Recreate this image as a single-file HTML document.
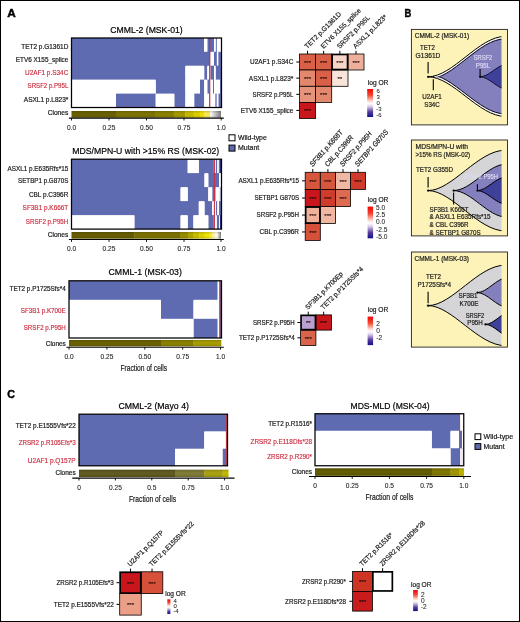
<!DOCTYPE html>
<html lang="en"><head><meta charset="utf-8"><title>Figure</title>
<style>
html,body{margin:0;padding:0;background:#fff;}
body{width:520px;height:622px;overflow:hidden;position:relative;}
svg{position:absolute;left:0;top:0;display:block;font-family:'Liberation Sans', sans-serif;}
.frame{position:absolute;left:0;top:0;width:518px;height:620px;border:1px solid #000;pointer-events:none;}
</style></head><body>
<svg width="520" height="622" viewBox="0 0 520 622">
<defs>
<linearGradient id="gg" x1="0" x2="1" y1="0" y2="0"><stop offset="0" stop-color="#ffffff"/><stop offset="1" stop-color="#7c7c7c"/></linearGradient>
<linearGradient id="cb" x1="0" x2="0" y1="0" y2="1"><stop offset="0" stop-color="#f20505"/><stop offset="0.22" stop-color="#f5452f"/><stop offset="0.44" stop-color="#fddcd2"/><stop offset="0.52" stop-color="#ffffff"/><stop offset="0.62" stop-color="#ddd0ea"/><stop offset="0.82" stop-color="#553a9c"/><stop offset="1" stop-color="#10108c"/></linearGradient>
<linearGradient id="cv" x1="0" x2="0" y1="0" y2="1"><stop offset="0" stop-color="#000" stop-opacity="0.16"/><stop offset="0.35" stop-color="#000" stop-opacity="0"/><stop offset="0.65" stop-color="#000" stop-opacity="0"/><stop offset="1" stop-color="#000" stop-opacity="0.14"/></linearGradient>
</defs>
<text x="7.30" y="16.90" font-size="11.3" textLength="8.50" lengthAdjust="spacingAndGlyphs" fill="#000" stroke="#000" stroke-width="0.45" font-weight="bold">A</text>
<text x="404.60" y="16.90" font-size="11.3" textLength="6.80" lengthAdjust="spacingAndGlyphs" fill="#000" stroke="#000" stroke-width="0.45" font-weight="bold">B</text>
<text x="7.30" y="398.40" font-size="11.3" textLength="7.70" lengthAdjust="spacingAndGlyphs" fill="#000" stroke="#000" stroke-width="0.45" font-weight="bold">C</text>
<rect x="71.50" y="38.00" width="150.00" height="69.50" fill="#fff"/>
<rect x="71.50" y="38.00" width="132.50" height="14.80" fill="#5f6bb1"/>
<rect x="207.30" y="38.00" width="6.70" height="14.80" fill="#5f6bb1"/>
<rect x="215.60" y="38.00" width="1.30" height="14.80" fill="#5f6bb1"/>
<rect x="204.00" y="38.00" width="3.30" height="13.80" fill="#fff"/>
<rect x="214.00" y="38.00" width="1.60" height="13.80" fill="#fff"/>
<rect x="216.90" y="38.00" width="4.60" height="13.80" fill="#fff"/>
<rect x="71.50" y="51.80" width="138.80" height="14.90" fill="#5f6bb1"/>
<rect x="214.00" y="51.80" width="2.90" height="14.90" fill="#5f6bb1"/>
<rect x="218.20" y="51.80" width="2.80" height="14.90" fill="#5f6bb1"/>
<rect x="210.30" y="51.80" width="3.70" height="13.90" fill="#fff"/>
<rect x="216.90" y="51.80" width="1.30" height="13.90" fill="#fff"/>
<rect x="221.00" y="51.80" width="0.50" height="13.90" fill="#fff"/>
<rect x="71.50" y="65.70" width="113.85" height="14.90" fill="#5f6bb1"/>
<rect x="204.20" y="65.70" width="3.10" height="14.90" fill="#5f6bb1"/>
<rect x="210.30" y="65.70" width="3.70" height="14.90" fill="#5f6bb1"/>
<rect x="215.60" y="65.70" width="5.40" height="14.90" fill="#5f6bb1"/>
<rect x="185.35" y="65.70" width="18.85" height="13.90" fill="#fff"/>
<rect x="207.30" y="65.70" width="3.00" height="13.90" fill="#fff"/>
<rect x="214.00" y="65.70" width="1.60" height="13.90" fill="#fff"/>
<rect x="221.00" y="65.70" width="0.50" height="13.90" fill="#fff"/>
<rect x="155.70" y="79.60" width="29.65" height="15.00" fill="#5f6bb1"/>
<rect x="200.00" y="79.60" width="4.20" height="15.00" fill="#5f6bb1"/>
<rect x="207.30" y="79.60" width="1.90" height="15.00" fill="#5f6bb1"/>
<rect x="213.00" y="79.60" width="1.00" height="15.00" fill="#5f6bb1"/>
<rect x="220.00" y="79.60" width="1.00" height="15.00" fill="#5f6bb1"/>
<rect x="71.50" y="79.60" width="84.20" height="14.00" fill="#fff"/>
<rect x="185.35" y="79.60" width="14.65" height="14.00" fill="#fff"/>
<rect x="204.20" y="79.60" width="3.10" height="14.00" fill="#fff"/>
<rect x="209.20" y="79.60" width="3.80" height="14.00" fill="#fff"/>
<rect x="214.00" y="79.60" width="6.00" height="14.00" fill="#fff"/>
<rect x="221.00" y="79.60" width="0.50" height="14.00" fill="#fff"/>
<rect x="115.90" y="93.60" width="39.80" height="13.90" fill="#5f6bb1"/>
<rect x="174.30" y="93.60" width="11.10" height="13.90" fill="#5f6bb1"/>
<rect x="194.20" y="93.60" width="10.00" height="13.90" fill="#5f6bb1"/>
<rect x="215.20" y="93.60" width="1.60" height="13.90" fill="#5f6bb1"/>
<rect x="218.30" y="93.60" width="2.70" height="13.90" fill="#5f6bb1"/>
<rect x="71.50" y="93.60" width="44.40" height="13.90" fill="#fff"/>
<rect x="155.70" y="93.60" width="18.60" height="13.90" fill="#fff"/>
<rect x="185.40" y="93.60" width="8.80" height="13.90" fill="#fff"/>
<rect x="204.20" y="93.60" width="11.00" height="13.90" fill="#fff"/>
<rect x="216.80" y="93.60" width="1.50" height="13.90" fill="#fff"/>
<rect x="221.00" y="93.60" width="0.50" height="13.90" fill="#fff"/>
<rect x="209.10" y="38.00" width="1.20" height="69.50" fill="#cd2f41"/>
<rect x="71.50" y="38.00" width="150.00" height="69.50" fill="none" stroke="#000" stroke-width="1.25"/>
<text x="146.50" y="33.00" font-size="9.4" text-anchor="middle" textLength="72.50" lengthAdjust="spacingAndGlyphs" fill="#000" stroke="#000" stroke-width="0.2">CMML-2 (MSK-01)</text>
<text x="68.30" y="48.80" font-size="6.8" text-anchor="end" textLength="47.00" lengthAdjust="spacingAndGlyphs" fill="#1a1a1a" stroke="#1a1a1a" stroke-width="0.2">TET2 p.G1361D</text>
<text x="68.30" y="61.90" font-size="6.8" text-anchor="end" textLength="52.50" lengthAdjust="spacingAndGlyphs" fill="#1a1a1a" stroke="#1a1a1a" stroke-width="0.2">ETV6 X155_splice</text>
<text x="68.30" y="75.20" font-size="6.8" text-anchor="end" textLength="43.20" lengthAdjust="spacingAndGlyphs" fill="#cd2f41" stroke="#cd2f41" stroke-width="0.16">U2AF1 p.S34C</text>
<text x="68.30" y="88.20" font-size="6.8" text-anchor="end" textLength="40.70" lengthAdjust="spacingAndGlyphs" fill="#cd2f41" stroke="#cd2f41" stroke-width="0.16">SRSF2 p.P95L</text>
<text x="68.30" y="102.30" font-size="6.8" text-anchor="end" textLength="44.50" lengthAdjust="spacingAndGlyphs" fill="#1a1a1a" stroke="#1a1a1a" stroke-width="0.2">ASXL1 p.L823*</text>
<text x="68.30" y="114.90" font-size="6.8" text-anchor="end" textLength="20.60" lengthAdjust="spacingAndGlyphs" fill="#1a1a1a" stroke="#1a1a1a" stroke-width="0.2">Clones</text>
<rect x="71.50" y="111.00" width="44.70" height="6.60" fill="#6a6000"/>
<rect x="115.90" y="111.00" width="40.00" height="6.60" fill="#7c7200"/>
<rect x="155.60" y="111.00" width="18.40" height="6.60" fill="#8a8000"/>
<rect x="173.70" y="111.00" width="11.90" height="6.60" fill="#a39800"/>
<rect x="185.30" y="111.00" width="8.60" height="6.60" fill="#c4b800"/>
<rect x="193.60" y="111.00" width="6.40" height="6.60" fill="#d8cc00"/>
<rect x="199.70" y="111.00" width="4.30" height="6.60" fill="#ebdd00"/>
<rect x="203.70" y="111.00" width="6.80" height="6.60" fill="#f5e850"/>
<rect x="210.20" y="111.00" width="10.80" height="6.60" fill="url(#gg)"/>
<rect x="71.50" y="111.00" width="149.50" height="6.60" fill="url(#cv)"/>
<line x1="68.90" y1="118.10" x2="223.80" y2="118.10" stroke="#000" stroke-width="1.1"/>
<line x1="71.50" y1="118.10" x2="71.50" y2="120.50" stroke="#000" stroke-width="0.9"/>
<text x="71.50" y="129.80" font-size="6.6" text-anchor="middle" fill="#1a1a1a" stroke="#1a1a1a" stroke-width="0.08">0.0</text>
<line x1="109.00" y1="118.10" x2="109.00" y2="120.50" stroke="#000" stroke-width="0.9"/>
<text x="109.00" y="129.80" font-size="6.6" text-anchor="middle" fill="#1a1a1a" stroke="#1a1a1a" stroke-width="0.08">0.25</text>
<line x1="146.50" y1="118.10" x2="146.50" y2="120.50" stroke="#000" stroke-width="0.9"/>
<text x="146.50" y="129.80" font-size="6.6" text-anchor="middle" fill="#1a1a1a" stroke="#1a1a1a" stroke-width="0.08">0.50</text>
<line x1="184.00" y1="118.10" x2="184.00" y2="120.50" stroke="#000" stroke-width="0.9"/>
<text x="184.00" y="129.80" font-size="6.6" text-anchor="middle" fill="#1a1a1a" stroke="#1a1a1a" stroke-width="0.08">0.75</text>
<line x1="221.20" y1="118.10" x2="221.20" y2="120.50" stroke="#000" stroke-width="0.9"/>
<text x="221.20" y="129.80" font-size="6.6" text-anchor="middle" fill="#1a1a1a" stroke="#1a1a1a" stroke-width="0.08">1.0</text>
<rect x="229.00" y="134.80" width="6.00" height="6.00" fill="#fff" stroke="#000" stroke-width="1"/>
<rect x="229.00" y="145.10" width="6.00" height="6.00" fill="#5f6bb1" stroke="#000" stroke-width="1"/>
<text x="238.00" y="140.40" font-size="6.9" textLength="28.80" lengthAdjust="spacingAndGlyphs" fill="#1a1a1a" stroke="#1a1a1a" stroke-width="0.2">Wild-type</text>
<text x="238.00" y="150.40" font-size="6.9" textLength="21.30" lengthAdjust="spacingAndGlyphs" fill="#1a1a1a" stroke="#1a1a1a" stroke-width="0.2">Mutant</text>
<rect x="71.50" y="159.20" width="150.00" height="69.90" fill="#fff"/>
<rect x="71.50" y="159.20" width="116.20" height="14.90" fill="#5f6bb1"/>
<rect x="198.80" y="159.20" width="15.10" height="14.90" fill="#5f6bb1"/>
<rect x="215.70" y="159.20" width="1.60" height="14.90" fill="#5f6bb1"/>
<rect x="218.60" y="159.20" width="0.90" height="14.90" fill="#5f6bb1"/>
<rect x="219.50" y="159.20" width="1.50" height="14.90" fill="#2a2f7e"/>
<rect x="187.70" y="159.20" width="11.10" height="13.90" fill="#fff"/>
<rect x="213.90" y="159.20" width="1.80" height="13.90" fill="#fff"/>
<rect x="217.30" y="159.20" width="1.30" height="13.90" fill="#fff"/>
<rect x="221.00" y="159.20" width="0.50" height="13.90" fill="#fff"/>
<rect x="71.50" y="173.10" width="133.00" height="15.00" fill="#5f6bb1"/>
<rect x="208.30" y="173.10" width="10.70" height="15.00" fill="#5f6bb1"/>
<rect x="204.50" y="173.10" width="3.80" height="14.00" fill="#fff"/>
<rect x="219.00" y="173.10" width="2.50" height="14.00" fill="#fff"/>
<rect x="71.50" y="187.10" width="109.10" height="15.00" fill="#5f6bb1"/>
<rect x="187.70" y="187.10" width="20.60" height="15.00" fill="#5f6bb1"/>
<rect x="212.20" y="187.10" width="3.50" height="15.00" fill="#5f6bb1"/>
<rect x="219.50" y="187.10" width="1.50" height="15.00" fill="#aab0d8"/>
<rect x="180.60" y="187.10" width="7.10" height="14.00" fill="#fff"/>
<rect x="208.30" y="187.10" width="3.90" height="14.00" fill="#fff"/>
<rect x="215.70" y="187.10" width="3.80" height="14.00" fill="#fff"/>
<rect x="221.00" y="187.10" width="0.50" height="14.00" fill="#fff"/>
<rect x="71.50" y="201.10" width="127.30" height="15.00" fill="#5f6bb1"/>
<rect x="204.50" y="201.10" width="7.70" height="15.00" fill="#5f6bb1"/>
<rect x="216.00" y="201.10" width="1.30" height="15.00" fill="#5f6bb1"/>
<rect x="219.00" y="201.10" width="2.00" height="15.00" fill="#5f6bb1"/>
<rect x="198.80" y="201.10" width="5.70" height="14.00" fill="#fff"/>
<rect x="212.20" y="201.10" width="3.80" height="14.00" fill="#fff"/>
<rect x="217.30" y="201.10" width="1.70" height="14.00" fill="#fff"/>
<rect x="221.00" y="201.10" width="0.50" height="14.00" fill="#fff"/>
<rect x="134.40" y="215.10" width="46.20" height="14.00" fill="#5f6bb1"/>
<rect x="187.70" y="215.10" width="5.70" height="14.00" fill="#5f6bb1"/>
<rect x="208.30" y="215.10" width="5.60" height="14.00" fill="#5f6bb1"/>
<rect x="216.70" y="215.10" width="2.60" height="14.00" fill="#5f6bb1"/>
<rect x="220.00" y="215.10" width="1.00" height="14.00" fill="#2a2f7e"/>
<rect x="71.50" y="215.10" width="62.90" height="14.00" fill="#fff"/>
<rect x="180.60" y="215.10" width="7.10" height="14.00" fill="#fff"/>
<rect x="193.40" y="215.10" width="14.90" height="14.00" fill="#fff"/>
<rect x="213.90" y="215.10" width="2.80" height="14.00" fill="#fff"/>
<rect x="219.30" y="215.10" width="0.70" height="14.00" fill="#fff"/>
<rect x="221.00" y="215.10" width="0.50" height="14.00" fill="#fff"/>
<rect x="213.85" y="159.20" width="1.10" height="69.90" fill="#cd2f41"/>
<rect x="71.50" y="159.20" width="150.00" height="69.90" fill="none" stroke="#000" stroke-width="1.25"/>
<text x="145.70" y="154.20" font-size="9.4" text-anchor="middle" textLength="147.00" lengthAdjust="spacingAndGlyphs" fill="#000" stroke="#000" stroke-width="0.2">MDS/MPN-U with &gt;15% RS (MSK-02)</text>
<text x="68.30" y="170.50" font-size="6.8" text-anchor="end" textLength="60.80" lengthAdjust="spacingAndGlyphs" fill="#1a1a1a" stroke="#1a1a1a" stroke-width="0.2">ASXL1 p.E635Rfs*15</text>
<text x="68.30" y="183.40" font-size="6.8" text-anchor="end" textLength="50.30" lengthAdjust="spacingAndGlyphs" fill="#1a1a1a" stroke="#1a1a1a" stroke-width="0.2">SETBP1 p.G870S</text>
<text x="68.30" y="197.40" font-size="6.8" text-anchor="end" textLength="39.40" lengthAdjust="spacingAndGlyphs" fill="#1a1a1a" stroke="#1a1a1a" stroke-width="0.2">CBL p.C396R</text>
<text x="68.30" y="209.70" font-size="6.8" text-anchor="end" textLength="45.70" lengthAdjust="spacingAndGlyphs" fill="#cd2f41" stroke="#cd2f41" stroke-width="0.16">SF3B1 p.K666T</text>
<text x="68.30" y="224.40" font-size="6.8" text-anchor="end" textLength="42.50" lengthAdjust="spacingAndGlyphs" fill="#cd2f41" stroke="#cd2f41" stroke-width="0.16">SRSF2 p.P95H</text>
<text x="68.30" y="236.80" font-size="6.8" text-anchor="end" textLength="20.60" lengthAdjust="spacingAndGlyphs" fill="#1a1a1a" stroke="#1a1a1a" stroke-width="0.2">Clones</text>
<rect x="71.50" y="232.00" width="63.20" height="6.60" fill="#655b00"/>
<rect x="134.40" y="232.00" width="45.80" height="6.60" fill="#7a7000"/>
<rect x="179.90" y="232.00" width="8.10" height="6.60" fill="#958a00"/>
<rect x="187.70" y="232.00" width="5.60" height="6.60" fill="#b0a400"/>
<rect x="193.00" y="232.00" width="6.60" height="6.60" fill="#c8bc00"/>
<rect x="199.30" y="232.00" width="5.60" height="6.60" fill="#ddd000"/>
<rect x="204.60" y="232.00" width="4.60" height="6.60" fill="#eee000"/>
<rect x="208.90" y="232.00" width="3.40" height="6.60" fill="#f5e840"/>
<rect x="212.00" y="232.00" width="3.10" height="6.60" fill="#fbf29a"/>
<rect x="214.80" y="232.00" width="2.40" height="6.60" fill="#fffbe0"/>
<rect x="216.90" y="232.00" width="4.10" height="6.60" fill="url(#gg)"/>
<rect x="71.50" y="232.00" width="149.50" height="6.60" fill="url(#cv)"/>
<line x1="68.90" y1="239.50" x2="223.80" y2="239.50" stroke="#000" stroke-width="1.1"/>
<line x1="71.50" y1="239.50" x2="71.50" y2="241.90" stroke="#000" stroke-width="0.9"/>
<text x="71.50" y="251.40" font-size="6.6" text-anchor="middle" fill="#1a1a1a" stroke="#1a1a1a" stroke-width="0.08">0.0</text>
<line x1="109.00" y1="239.50" x2="109.00" y2="241.90" stroke="#000" stroke-width="0.9"/>
<text x="109.00" y="251.40" font-size="6.6" text-anchor="middle" fill="#1a1a1a" stroke="#1a1a1a" stroke-width="0.08">0.25</text>
<line x1="146.50" y1="239.50" x2="146.50" y2="241.90" stroke="#000" stroke-width="0.9"/>
<text x="146.50" y="251.40" font-size="6.6" text-anchor="middle" fill="#1a1a1a" stroke="#1a1a1a" stroke-width="0.08">0.50</text>
<line x1="184.00" y1="239.50" x2="184.00" y2="241.90" stroke="#000" stroke-width="0.9"/>
<text x="184.00" y="251.40" font-size="6.6" text-anchor="middle" fill="#1a1a1a" stroke="#1a1a1a" stroke-width="0.08">0.75</text>
<line x1="221.00" y1="239.50" x2="221.00" y2="241.90" stroke="#000" stroke-width="0.9"/>
<text x="221.00" y="251.40" font-size="6.6" text-anchor="middle" fill="#1a1a1a" stroke="#1a1a1a" stroke-width="0.08">1.0</text>
<rect x="69.00" y="280.80" width="152.50" height="57.20" fill="#fff"/>
<rect x="69.00" y="280.80" width="148.70" height="20.00" fill="#5f6bb1"/>
<rect x="217.70" y="280.80" width="3.80" height="19.00" fill="#fff"/>
<rect x="161.00" y="299.80" width="32.50" height="20.00" fill="#5f6bb1"/>
<rect x="69.00" y="299.80" width="92.00" height="19.00" fill="#fff"/>
<rect x="193.50" y="299.80" width="28.00" height="19.00" fill="#fff"/>
<rect x="193.50" y="318.80" width="24.20" height="19.20" fill="#5f6bb1"/>
<rect x="69.00" y="318.80" width="124.50" height="19.20" fill="#fff"/>
<rect x="217.70" y="318.80" width="3.80" height="19.20" fill="#fff"/>
<rect x="219.20" y="280.80" width="1.50" height="57.20" fill="#cd2f41"/>
<rect x="220.50" y="280.80" width="0.80" height="57.20" fill="#2a2f7e"/>
<rect x="69.00" y="280.80" width="152.50" height="57.20" fill="none" stroke="#000" stroke-width="1.25"/>
<text x="145.20" y="275.40" font-size="9.4" text-anchor="middle" textLength="73.30" lengthAdjust="spacingAndGlyphs" fill="#000" stroke="#000" stroke-width="0.2">CMML-1 (MSK-03)</text>
<text x="65.80" y="291.20" font-size="6.8" text-anchor="end" textLength="56.30" lengthAdjust="spacingAndGlyphs" fill="#1a1a1a" stroke="#1a1a1a" stroke-width="0.2">TET2 p.P1725Sfs*4</text>
<text x="65.80" y="312.90" font-size="6.8" text-anchor="end" textLength="45.05" lengthAdjust="spacingAndGlyphs" fill="#cd2f41" stroke="#cd2f41" stroke-width="0.16">SF3B1 p.K700E</text>
<text x="65.80" y="330.40" font-size="6.8" text-anchor="end" textLength="42.05" lengthAdjust="spacingAndGlyphs" fill="#cd2f41" stroke="#cd2f41" stroke-width="0.16">SRSF2 p.P95H</text>
<text x="65.80" y="345.70" font-size="6.8" text-anchor="end" textLength="20.05" lengthAdjust="spacingAndGlyphs" fill="#1a1a1a" stroke="#1a1a1a" stroke-width="0.2">Clones</text>
<rect x="69.00" y="340.00" width="92.30" height="6.30" fill="#6a6000"/>
<rect x="161.00" y="340.00" width="32.80" height="6.30" fill="#8a8000"/>
<rect x="193.50" y="340.00" width="27.80" height="6.30" fill="#a69b00"/>
<rect x="69.00" y="340.00" width="152.30" height="6.30" fill="url(#cv)"/>
<line x1="66.40" y1="347.20" x2="223.80" y2="347.20" stroke="#000" stroke-width="1.1"/>
<line x1="69.00" y1="347.20" x2="69.00" y2="349.60" stroke="#000" stroke-width="0.9"/>
<text x="69.00" y="359.00" font-size="6.6" text-anchor="middle" fill="#1a1a1a" stroke="#1a1a1a" stroke-width="0.08">0.0</text>
<line x1="106.90" y1="347.20" x2="106.90" y2="349.60" stroke="#000" stroke-width="0.9"/>
<text x="106.90" y="359.00" font-size="6.6" text-anchor="middle" fill="#1a1a1a" stroke="#1a1a1a" stroke-width="0.08">0.25</text>
<line x1="144.80" y1="347.20" x2="144.80" y2="349.60" stroke="#000" stroke-width="0.9"/>
<text x="144.80" y="359.00" font-size="6.6" text-anchor="middle" fill="#1a1a1a" stroke="#1a1a1a" stroke-width="0.08">0.50</text>
<line x1="182.70" y1="347.20" x2="182.70" y2="349.60" stroke="#000" stroke-width="0.9"/>
<text x="182.70" y="359.00" font-size="6.6" text-anchor="middle" fill="#1a1a1a" stroke="#1a1a1a" stroke-width="0.08">0.75</text>
<line x1="220.50" y1="347.20" x2="220.50" y2="349.60" stroke="#000" stroke-width="0.9"/>
<text x="220.50" y="359.00" font-size="6.6" text-anchor="middle" fill="#1a1a1a" stroke="#1a1a1a" stroke-width="0.08">1.0</text>
<text x="143.80" y="370.50" font-size="8.8" text-anchor="middle" textLength="46.70" lengthAdjust="spacingAndGlyphs" fill="#1a1a1a" stroke="#1a1a1a" stroke-width="0.2">Fraction of cells</text>
<rect x="299.50" y="54.00" width="16.10" height="16.00" fill="#d95f46" stroke="#000" stroke-width="0.8"/>
<text x="307.55" y="64.80" font-size="6.1" text-anchor="middle" fill="#200808" stroke="#200808" stroke-width="0.1">***</text>
<rect x="315.60" y="54.00" width="16.10" height="16.00" fill="#d95f46" stroke="#000" stroke-width="0.8"/>
<text x="323.65" y="64.80" font-size="6.1" text-anchor="middle" fill="#200808" stroke="#200808" stroke-width="0.1">***</text>
<rect x="348.00" y="54.00" width="16.00" height="16.00" fill="#eeb09a" stroke="#000" stroke-width="0.8"/>
<text x="356.00" y="64.80" font-size="6.1" text-anchor="middle" fill="#200808" stroke="#200808" stroke-width="0.1">***</text>
<rect x="299.50" y="70.00" width="16.10" height="16.30" fill="#e3886d" stroke="#000" stroke-width="0.8"/>
<text x="307.55" y="80.95" font-size="6.1" text-anchor="middle" fill="#200808" stroke="#200808" stroke-width="0.1">***</text>
<rect x="315.60" y="70.00" width="16.10" height="16.30" fill="#d95f46" stroke="#000" stroke-width="0.8"/>
<text x="323.65" y="80.95" font-size="6.1" text-anchor="middle" fill="#200808" stroke="#200808" stroke-width="0.1">***</text>
<rect x="331.70" y="70.00" width="16.30" height="16.30" fill="#f9e4da" stroke="#000" stroke-width="0.8"/>
<text x="339.85" y="80.95" font-size="6.1" text-anchor="middle" fill="#200808" stroke="#200808" stroke-width="0.1">**</text>
<rect x="299.50" y="86.30" width="16.10" height="16.10" fill="#e6937b" stroke="#000" stroke-width="0.8"/>
<text x="307.55" y="97.15" font-size="6.1" text-anchor="middle" fill="#200808" stroke="#200808" stroke-width="0.1">***</text>
<rect x="315.60" y="86.30" width="16.10" height="16.10" fill="#e3886d" stroke="#000" stroke-width="0.8"/>
<text x="323.65" y="97.15" font-size="6.1" text-anchor="middle" fill="#200808" stroke="#200808" stroke-width="0.1">***</text>
<rect x="299.50" y="102.40" width="16.10" height="16.10" fill="#c9161d" stroke="#000" stroke-width="0.8"/>
<text x="307.55" y="113.25" font-size="6.1" text-anchor="middle" fill="#200808" stroke="#200808" stroke-width="0.1">***</text>
<rect x="332.15" y="54.45" width="15.40" height="15.10" fill="#f6d5c8" stroke="#000" stroke-width="1.7"/>
<text x="339.85" y="64.80" font-size="6.1" text-anchor="middle" fill="#200808" stroke="#200808" stroke-width="0.1">***</text>
<line x1="307.55" y1="50.80" x2="307.55" y2="54.00" stroke="#000" stroke-width="1.0"/>
<text x="307.35" y="49.00" font-size="6.8" textLength="48.50" lengthAdjust="spacingAndGlyphs" fill="#1a1a1a" stroke="#1a1a1a" stroke-width="0.2" transform="rotate(-45 307.35 49.00)">TET2 p.G1361D</text>
<line x1="323.65" y1="50.80" x2="323.65" y2="54.00" stroke="#000" stroke-width="1.0"/>
<text x="323.45" y="49.00" font-size="6.8" textLength="53.50" lengthAdjust="spacingAndGlyphs" fill="#1a1a1a" stroke="#1a1a1a" stroke-width="0.2" transform="rotate(-45 323.45 49.00)">ETV6 X155_splice</text>
<line x1="339.85" y1="50.80" x2="339.85" y2="54.00" stroke="#000" stroke-width="1.0"/>
<text x="339.65" y="49.00" font-size="6.8" textLength="43.50" lengthAdjust="spacingAndGlyphs" fill="#1a1a1a" stroke="#1a1a1a" stroke-width="0.2" transform="rotate(-45 339.65 49.00)">SRSF2 p.P95L</text>
<line x1="356.00" y1="50.80" x2="356.00" y2="54.00" stroke="#000" stroke-width="1.0"/>
<text x="355.80" y="49.00" font-size="6.8" textLength="44.80" lengthAdjust="spacingAndGlyphs" fill="#1a1a1a" stroke="#1a1a1a" stroke-width="0.2" transform="rotate(-45 355.80 49.00)">ASXL1 p.L823*</text>
<line x1="296.30" y1="62.00" x2="299.50" y2="62.00" stroke="#000" stroke-width="1.0"/>
<text x="293.30" y="64.40" font-size="6.8" text-anchor="end" textLength="43.20" lengthAdjust="spacingAndGlyphs" fill="#1a1a1a" stroke="#1a1a1a" stroke-width="0.2">U2AF1 p.S34C</text>
<line x1="296.30" y1="78.15" x2="299.50" y2="78.15" stroke="#000" stroke-width="1.0"/>
<text x="293.30" y="80.55" font-size="6.8" text-anchor="end" textLength="44.50" lengthAdjust="spacingAndGlyphs" fill="#1a1a1a" stroke="#1a1a1a" stroke-width="0.2">ASXL1 p.L823*</text>
<line x1="296.30" y1="94.35" x2="299.50" y2="94.35" stroke="#000" stroke-width="1.0"/>
<text x="293.30" y="96.75" font-size="6.8" text-anchor="end" textLength="40.70" lengthAdjust="spacingAndGlyphs" fill="#1a1a1a" stroke="#1a1a1a" stroke-width="0.2">SRSF2 p.P95L</text>
<line x1="296.30" y1="110.45" x2="299.50" y2="110.45" stroke="#000" stroke-width="1.0"/>
<text x="293.30" y="112.85" font-size="6.8" text-anchor="end" textLength="52.50" lengthAdjust="spacingAndGlyphs" fill="#1a1a1a" stroke="#1a1a1a" stroke-width="0.2">ETV6 X155_splice</text>
<text x="367.80" y="85.00" font-size="7.2" textLength="20.60" lengthAdjust="spacingAndGlyphs" fill="#1a1a1a" stroke="#1a1a1a" stroke-width="0.2">log OR</text>
<rect x="367.20" y="89.00" width="5.90" height="28.00" fill="url(#cb)"/>
<text x="376.50" y="93.16" font-size="6.0" fill="#1a1a1a" stroke="#1a1a1a" stroke-width="0.05">6</text>
<text x="376.50" y="99.46" font-size="6.0" fill="#1a1a1a" stroke="#1a1a1a" stroke-width="0.05">3</text>
<text x="376.50" y="105.36" font-size="6.0" fill="#1a1a1a" stroke="#1a1a1a" stroke-width="0.05">0</text>
<text x="376.30" y="111.36" font-size="6.0" fill="#1a1a1a" stroke="#1a1a1a" stroke-width="0.05">-3</text>
<text x="376.30" y="117.36" font-size="6.0" fill="#1a1a1a" stroke="#1a1a1a" stroke-width="0.05">-6</text>
<rect x="305.20" y="172.30" width="15.10" height="17.10" fill="#d7573e" stroke="#000" stroke-width="0.8"/>
<text x="312.75" y="183.65" font-size="6.1" text-anchor="middle" fill="#200808" stroke="#200808" stroke-width="0.1">***</text>
<rect x="320.30" y="172.30" width="15.20" height="17.10" fill="#d7573e" stroke="#000" stroke-width="0.8"/>
<text x="327.90" y="183.65" font-size="6.1" text-anchor="middle" fill="#200808" stroke="#200808" stroke-width="0.1">***</text>
<rect x="335.50" y="172.30" width="15.00" height="17.10" fill="#f0b8a2" stroke="#000" stroke-width="0.8"/>
<text x="343.00" y="183.65" font-size="6.1" text-anchor="middle" fill="#200808" stroke="#200808" stroke-width="0.1">***</text>
<rect x="350.50" y="172.30" width="15.00" height="17.10" fill="#cf3a2a" stroke="#000" stroke-width="0.8"/>
<text x="358.00" y="183.65" font-size="6.1" text-anchor="middle" fill="#200808" stroke="#200808" stroke-width="0.1">***</text>
<rect x="305.20" y="189.40" width="15.10" height="17.20" fill="#c9161d" stroke="#000" stroke-width="0.8"/>
<text x="312.75" y="200.80" font-size="6.1" text-anchor="middle" fill="#200808" stroke="#200808" stroke-width="0.1">***</text>
<rect x="320.30" y="189.40" width="15.20" height="17.20" fill="#d03c2b" stroke="#000" stroke-width="0.8"/>
<text x="327.90" y="200.80" font-size="6.1" text-anchor="middle" fill="#200808" stroke="#200808" stroke-width="0.1">***</text>
<rect x="335.50" y="189.40" width="15.00" height="17.20" fill="#de6a50" stroke="#000" stroke-width="0.8"/>
<text x="343.00" y="200.80" font-size="6.1" text-anchor="middle" fill="#200808" stroke="#200808" stroke-width="0.1">***</text>
<rect x="320.30" y="206.60" width="15.20" height="16.90" fill="#f0b8a2" stroke="#000" stroke-width="0.8"/>
<text x="327.90" y="217.85" font-size="6.1" text-anchor="middle" fill="#200808" stroke="#200808" stroke-width="0.1">***</text>
<rect x="305.20" y="223.50" width="15.10" height="16.90" fill="#d6503a" stroke="#000" stroke-width="0.8"/>
<text x="312.75" y="234.75" font-size="6.1" text-anchor="middle" fill="#200808" stroke="#200808" stroke-width="0.1">***</text>
<rect x="305.65" y="207.05" width="14.20" height="16.00" fill="#f0b09a" stroke="#000" stroke-width="1.7"/>
<text x="312.75" y="217.85" font-size="6.1" text-anchor="middle" fill="#200808" stroke="#200808" stroke-width="0.1">***</text>
<line x1="312.75" y1="169.10" x2="312.75" y2="172.30" stroke="#000" stroke-width="1.0"/>
<text x="0.00" y="0.00" font-size="6.8" textLength="43.20" lengthAdjust="spacingAndGlyphs" fill="#1a1a1a" stroke="#1a1a1a" stroke-width="0.2" transform="translate(312.55 167.30) scale(1 1.128) rotate(-45)">SF3B1 p.K666T</text>
<line x1="327.90" y1="169.10" x2="327.90" y2="172.30" stroke="#000" stroke-width="1.0"/>
<text x="0.00" y="0.00" font-size="6.8" textLength="36.50" lengthAdjust="spacingAndGlyphs" fill="#1a1a1a" stroke="#1a1a1a" stroke-width="0.2" transform="translate(327.70 167.30) scale(1 1.128) rotate(-45)">CBL p.C396R</text>
<line x1="343.00" y1="169.10" x2="343.00" y2="172.30" stroke="#000" stroke-width="1.0"/>
<text x="0.00" y="0.00" font-size="6.8" textLength="41.50" lengthAdjust="spacingAndGlyphs" fill="#1a1a1a" stroke="#1a1a1a" stroke-width="0.2" transform="translate(342.80 167.30) scale(1 1.128) rotate(-45)">SRSF2 p.P95H</text>
<line x1="358.00" y1="169.10" x2="358.00" y2="172.30" stroke="#000" stroke-width="1.0"/>
<text x="0.00" y="0.00" font-size="6.8" textLength="43.50" lengthAdjust="spacingAndGlyphs" fill="#1a1a1a" stroke="#1a1a1a" stroke-width="0.2" transform="translate(357.80 167.30) scale(1 1.128) rotate(-45)">SETBP1 G870S</text>
<line x1="302.00" y1="180.85" x2="305.20" y2="180.85" stroke="#000" stroke-width="1.0"/>
<text x="299.00" y="183.25" font-size="6.8" text-anchor="end" textLength="60.60" lengthAdjust="spacingAndGlyphs" fill="#1a1a1a" stroke="#1a1a1a" stroke-width="0.2">ASXL1 p.E635Rfs*15</text>
<line x1="302.00" y1="198.00" x2="305.20" y2="198.00" stroke="#000" stroke-width="1.0"/>
<text x="299.00" y="200.40" font-size="6.8" text-anchor="end" textLength="44.50" lengthAdjust="spacingAndGlyphs" fill="#1a1a1a" stroke="#1a1a1a" stroke-width="0.2">SETBP1 G870S</text>
<line x1="302.00" y1="215.05" x2="305.20" y2="215.05" stroke="#000" stroke-width="1.0"/>
<text x="299.00" y="217.45" font-size="6.8" text-anchor="end" textLength="42.50" lengthAdjust="spacingAndGlyphs" fill="#1a1a1a" stroke="#1a1a1a" stroke-width="0.2">SRSF2 p.P95H</text>
<line x1="302.00" y1="231.95" x2="305.20" y2="231.95" stroke="#000" stroke-width="1.0"/>
<text x="299.00" y="234.35" font-size="6.8" text-anchor="end" textLength="39.50" lengthAdjust="spacingAndGlyphs" fill="#1a1a1a" stroke="#1a1a1a" stroke-width="0.2">CBL p.C396R</text>
<text x="367.80" y="201.80" font-size="7.2" textLength="20.60" lengthAdjust="spacingAndGlyphs" fill="#1a1a1a" stroke="#1a1a1a" stroke-width="0.2">log OR</text>
<rect x="367.60" y="206.60" width="5.50" height="31.70" fill="url(#cb)"/>
<text x="376.10" y="210.28" font-size="6.6" fill="#1a1a1a" stroke="#1a1a1a" stroke-width="0.05">5.0</text>
<text x="376.10" y="217.38" font-size="6.6" fill="#1a1a1a" stroke="#1a1a1a" stroke-width="0.05">2.5</text>
<text x="376.10" y="224.38" font-size="6.6" fill="#1a1a1a" stroke="#1a1a1a" stroke-width="0.05">0.0</text>
<text x="376.10" y="231.78" font-size="6.6" fill="#1a1a1a" stroke="#1a1a1a" stroke-width="0.05">-2.5</text>
<text x="376.10" y="238.98" font-size="6.6" fill="#1a1a1a" stroke="#1a1a1a" stroke-width="0.05">-5.0</text>
<rect x="315.90" y="314.90" width="15.50" height="15.20" fill="#c9161d" stroke="#000" stroke-width="0.8"/>
<text x="323.65" y="325.30" font-size="6.1" text-anchor="middle" fill="#200808" stroke="#200808" stroke-width="0.1">***</text>
<rect x="300.60" y="330.10" width="15.30" height="15.40" fill="#da644b" stroke="#000" stroke-width="0.8"/>
<text x="308.25" y="340.60" font-size="6.1" text-anchor="middle" fill="#200808" stroke="#200808" stroke-width="0.1">***</text>
<rect x="301.05" y="315.35" width="14.40" height="14.30" fill="#b9a0d0" stroke="#000" stroke-width="1.7"/>
<text x="308.25" y="325.30" font-size="6.1" text-anchor="middle" fill="#200808" stroke="#200808" stroke-width="0.1">**</text>
<line x1="308.25" y1="311.70" x2="308.25" y2="314.90" stroke="#000" stroke-width="1.0"/>
<text x="308.05" y="309.90" font-size="6.8" textLength="50.00" lengthAdjust="spacingAndGlyphs" fill="#1a1a1a" stroke="#1a1a1a" stroke-width="0.2" transform="rotate(-45 308.05 309.90)">SF3B1 p.K700Ep</text>
<line x1="323.65" y1="311.70" x2="323.65" y2="314.90" stroke="#000" stroke-width="1.0"/>
<text x="323.45" y="309.90" font-size="6.8" textLength="57.10" lengthAdjust="spacingAndGlyphs" fill="#1a1a1a" stroke="#1a1a1a" stroke-width="0.2" transform="rotate(-45 323.45 309.90)">TET2 p.P1725Sfs*4</text>
<line x1="297.40" y1="322.50" x2="300.60" y2="322.50" stroke="#000" stroke-width="1.0"/>
<text x="294.70" y="324.90" font-size="6.8" text-anchor="end" textLength="41.80" lengthAdjust="spacingAndGlyphs" fill="#1a1a1a" stroke="#1a1a1a" stroke-width="0.2">SRSF2 p.P95H</text>
<line x1="297.40" y1="337.80" x2="300.60" y2="337.80" stroke="#000" stroke-width="1.0"/>
<text x="294.70" y="340.20" font-size="6.8" text-anchor="end" textLength="55.80" lengthAdjust="spacingAndGlyphs" fill="#1a1a1a" stroke="#1a1a1a" stroke-width="0.2">TET2 p.P1725Sfs*4</text>
<text x="367.70" y="311.70" font-size="7.2" textLength="20.60" lengthAdjust="spacingAndGlyphs" fill="#1a1a1a" stroke="#1a1a1a" stroke-width="0.2">log OR</text>
<rect x="367.60" y="316.60" width="5.50" height="28.50" fill="url(#cb)"/>
<text x="376.30" y="326.08" font-size="6.6" fill="#1a1a1a" stroke="#1a1a1a" stroke-width="0.05">2</text>
<text x="376.30" y="333.18" font-size="6.6" fill="#1a1a1a" stroke="#1a1a1a" stroke-width="0.05">0</text>
<text x="376.20" y="339.88" font-size="6.6" fill="#1a1a1a" stroke="#1a1a1a" stroke-width="0.05">-2</text>
<rect x="411.40" y="29.40" width="96.10" height="95.50" fill="#fdf3b8" stroke="#222" stroke-width="0.9"/>
<clipPath id="c1"><rect x="411" y="29" width="90.5" height="97"/></clipPath>
<g clip-path="url(#c1)">
<path d="M428.00,76.80 C452.98,76.80 478.75,36.33 505.28,36.33 L505.28,116.46 C478.75,116.46 452.98,76.80 428.00,76.80Z" fill="#f6f6f6" stroke="#000" stroke-width="1.0" stroke-linejoin="round"/>
<clipPath id="fu1"><rect x="400" y="0" width="120" height="77.20"/></clipPath>
<clipPath id="fl1"><rect x="400" y="76.40" width="120" height="300"/></clipPath>
<g clip-path="url(#fu1)"><path d="M428.00,79.30 C452.98,79.30 478.75,38.83 505.28,38.83 L505.28,77.80 L428.00,77.80Z" fill="#8480be"/><path d="M428.00,79.30 C452.98,79.30 478.75,38.83 505.28,38.83" fill="none" stroke="#05051a" stroke-width="1.0"/></g>
<g clip-path="url(#fl1)"><path d="M428.00,74.30 C452.98,74.30 478.75,113.96 505.28,113.96 L505.28,75.80 L428.00,75.80Z" fill="#8480be"/><path d="M428.00,74.30 C452.98,74.30 478.75,113.96 505.28,113.96" fill="none" stroke="#05051a" stroke-width="1.0"/></g>
<path d="M480.10,76.80 C489.06,76.80 498.02,64.19 506.98,64.19 L506.98,89.41 C498.02,89.41 489.06,76.80 480.10,76.80Z" fill="#3e4099" stroke="#0a0a20" stroke-width="0.9" stroke-linejoin="round"/>
</g>
<text x="414.80" y="37.90" font-size="6.6" textLength="54.40" lengthAdjust="spacingAndGlyphs" fill="#1a1a1a" stroke="#1a1a1a" stroke-width="0.2">CMML-2 (MSK-01)</text>
<text x="427.50" y="50.30" font-size="6.6" text-anchor="middle" textLength="14.80" lengthAdjust="spacingAndGlyphs" fill="#1a1a1a" stroke="#1a1a1a" stroke-width="0.2">TET2</text>
<text x="428.00" y="58.30" font-size="6.6" text-anchor="middle" textLength="24.80" lengthAdjust="spacingAndGlyphs" fill="#1a1a1a" stroke="#1a1a1a" stroke-width="0.2">G1361D</text>
<line x1="428.10" y1="62.10" x2="428.10" y2="73.60" stroke="#000" stroke-width="1.1"/>
<circle cx="428.10" cy="76.80" r="1.1" fill="#000"/>
<circle cx="433.40" cy="76.80" r="0.8" fill="#000"/>
<line x1="433.30" y1="79.30" x2="433.30" y2="90.30" stroke="#000" stroke-width="1.1"/>
<text x="432.00" y="99.20" font-size="6.6" text-anchor="middle" textLength="19.50" lengthAdjust="spacingAndGlyphs" fill="#1a1a1a" stroke="#1a1a1a" stroke-width="0.2">U2AF1</text>
<text x="432.00" y="106.90" font-size="6.6" text-anchor="middle" textLength="15.50" lengthAdjust="spacingAndGlyphs" fill="#1a1a1a" stroke="#1a1a1a" stroke-width="0.2">S34C</text>
<text x="483.00" y="60.40" font-size="6.6" text-anchor="middle" textLength="18.50" lengthAdjust="spacingAndGlyphs" fill="#dcd9f2" stroke="#dcd9f2" stroke-width="0.2">SRSF2</text>
<text x="483.00" y="68.00" font-size="6.6" text-anchor="middle" textLength="14.50" lengthAdjust="spacingAndGlyphs" fill="#dcd9f2" stroke="#dcd9f2" stroke-width="0.2">P95L</text>
<line x1="480.10" y1="69.00" x2="480.10" y2="76.00" stroke="#000" stroke-width="1.1"/>
<circle cx="480.10" cy="76.80" r="1.1" fill="#000"/>
<rect x="411.40" y="140.00" width="96.10" height="95.90" fill="#fdf3b8" stroke="#222" stroke-width="0.9"/>
<clipPath id="c2"><rect x="411" y="140" width="90.5" height="96"/></clipPath>
<g clip-path="url(#c2)">
<path d="M428.00,190.60 C452.21,190.60 477.98,150.23 505.28,150.23 L505.28,230.97 C477.98,230.97 452.21,190.60 428.00,190.60Z" fill="#d5d5d7" stroke="#000" stroke-width="1.0" stroke-linejoin="round"/>
<path d="M453.60,190.60 C470.88,190.60 488.16,164.29 505.44,164.29 L505.44,216.91 C488.16,216.91 470.88,190.60 453.60,190.60Z" fill="#8480be" stroke="#000" stroke-width="1.0" stroke-linejoin="round"/>
<path d="M477.40,190.60 C486.68,190.60 495.95,177.28 505.23,177.28 L505.23,203.92 C495.95,203.92 486.68,190.60 477.40,190.60Z" fill="#3e4099" stroke="#000" stroke-width="1.0" stroke-linejoin="round"/>
</g>
<text x="415.60" y="149.00" font-size="6.6" textLength="52.40" lengthAdjust="spacingAndGlyphs" fill="#1a1a1a" stroke="#1a1a1a" stroke-width="0.2">MDS/MPN-U with</text>
<text x="415.40" y="156.80" font-size="6.6" textLength="54.80" lengthAdjust="spacingAndGlyphs" fill="#1a1a1a" stroke="#1a1a1a" stroke-width="0.2">&gt;15% RS (MSK-02)</text>
<text x="416.00" y="172.40" font-size="6.6" textLength="37.00" lengthAdjust="spacingAndGlyphs" fill="#1a1a1a" stroke="#1a1a1a" stroke-width="0.2">TET2 G355D</text>
<line x1="428.10" y1="177.00" x2="428.10" y2="187.60" stroke="#000" stroke-width="1.1"/>
<circle cx="428.10" cy="190.60" r="1.1" fill="#000"/>
<text x="463.00" y="179.00" font-size="6.6" textLength="35.00" lengthAdjust="spacingAndGlyphs" fill="#dcd9f2" stroke="#dcd9f2" stroke-width="0.2">SRSF2 P95H</text>
<line x1="477.40" y1="184.20" x2="477.40" y2="189.50" stroke="#000" stroke-width="1.1"/>
<circle cx="477.40" cy="190.60" r="1.1" fill="#000"/>
<circle cx="453.60" cy="190.60" r="1.1" fill="#000"/>
<line x1="453.60" y1="192.50" x2="453.60" y2="204.40" stroke="#000" stroke-width="1.1"/>
<text x="429.60" y="211.60" font-size="6.6" textLength="39.00" lengthAdjust="spacingAndGlyphs" fill="#1a1a1a" stroke="#1a1a1a" stroke-width="0.2">SF3B1 K666T</text>
<text x="429.60" y="219.20" font-size="6.6" textLength="61.00" lengthAdjust="spacingAndGlyphs" fill="#1a1a1a" stroke="#1a1a1a" stroke-width="0.2">&amp; ASXL1 E635Rfs*15</text>
<text x="429.60" y="227.20" font-size="6.6" textLength="39.00" lengthAdjust="spacingAndGlyphs" fill="#1a1a1a" stroke="#1a1a1a" stroke-width="0.2">&amp; CBL C396R</text>
<text x="429.60" y="235.40" font-size="6.6" textLength="51.00" lengthAdjust="spacingAndGlyphs" fill="#1a1a1a" stroke="#1a1a1a" stroke-width="0.2">&amp; SETBP1 G870S</text>
<rect x="411.40" y="252.00" width="96.10" height="95.10" fill="#fdf3b8" stroke="#222" stroke-width="0.9"/>
<clipPath id="c3"><rect x="411" y="252" width="90.5" height="95.4"/></clipPath>
<g clip-path="url(#c3)">
<path d="M428.00,305.60 C452.21,305.60 477.98,265.13 505.28,265.13 L505.28,345.66 C477.98,345.66 452.21,305.60 428.00,305.60Z" fill="#d5d5d7" stroke="#000" stroke-width="1.0" stroke-linejoin="round"/>
<path d="M477.40,292.60 C487.08,292.60 496.76,278.02 506.44,278.02 L506.44,306.96 C496.76,306.96 487.08,292.60 477.40,292.60Z" fill="#8480be" stroke="#000" stroke-width="1.0" stroke-linejoin="round"/>
<path d="M485.40,324.40 C494.04,324.40 502.68,311.38 511.32,311.38 L511.32,337.27 C502.68,337.27 494.04,324.40 485.40,324.40Z" fill="#3e4099" stroke="#000" stroke-width="1.0" stroke-linejoin="round"/>
</g>
<text x="414.50" y="260.80" font-size="6.6" textLength="54.40" lengthAdjust="spacingAndGlyphs" fill="#1a1a1a" stroke="#1a1a1a" stroke-width="0.2">CMML-1 (MSK-03)</text>
<text x="433.40" y="279.00" font-size="6.6" text-anchor="middle" textLength="15.00" lengthAdjust="spacingAndGlyphs" fill="#1a1a1a" stroke="#1a1a1a" stroke-width="0.2">TET2</text>
<text x="434.30" y="287.30" font-size="6.6" text-anchor="middle" textLength="33.50" lengthAdjust="spacingAndGlyphs" fill="#1a1a1a" stroke="#1a1a1a" stroke-width="0.2">P1725Sfs*4</text>
<line x1="428.10" y1="291.80" x2="428.10" y2="303.30" stroke="#000" stroke-width="1.1"/>
<circle cx="428.10" cy="305.60" r="1.2" fill="#000"/>
<circle cx="477.40" cy="292.60" r="1.1" fill="#000"/>
<circle cx="485.40" cy="324.40" r="1.1" fill="#000"/>
<text x="468.00" y="298.40" font-size="6.6" text-anchor="middle" textLength="19.00" lengthAdjust="spacingAndGlyphs" fill="#1a1a1a" stroke="#1a1a1a" stroke-width="0.2">SF3B1</text>
<text x="469.00" y="306.40" font-size="6.6" text-anchor="middle" textLength="19.00" lengthAdjust="spacingAndGlyphs" fill="#1a1a1a" stroke="#1a1a1a" stroke-width="0.2">K700E</text>
<text x="475.00" y="318.00" font-size="6.6" text-anchor="middle" textLength="18.50" lengthAdjust="spacingAndGlyphs" fill="#1a1a1a" stroke="#1a1a1a" stroke-width="0.2">SRSF2</text>
<text x="475.00" y="325.40" font-size="6.6" text-anchor="middle" textLength="15.50" lengthAdjust="spacingAndGlyphs" fill="#1a1a1a" stroke="#1a1a1a" stroke-width="0.2">P95H</text>
<rect x="79.00" y="414.20" width="148.50" height="51.60" fill="#fff"/>
<rect x="79.00" y="414.20" width="147.50" height="18.10" fill="#5f6bb1"/>
<rect x="226.50" y="414.20" width="1.00" height="17.10" fill="#fff"/>
<rect x="79.00" y="431.30" width="125.25" height="18.40" fill="#5f6bb1"/>
<rect x="204.25" y="431.30" width="23.25" height="17.40" fill="#fff"/>
<rect x="79.00" y="448.70" width="96.00" height="17.10" fill="#5f6bb1"/>
<rect x="222.50" y="448.70" width="4.00" height="17.10" fill="#5f6bb1"/>
<rect x="175.00" y="448.70" width="47.50" height="17.10" fill="#fff"/>
<rect x="226.50" y="448.70" width="1.00" height="17.10" fill="#fff"/>
<rect x="225.90" y="414.20" width="1.00" height="51.60" fill="#cd2f41"/>
<rect x="79.00" y="414.20" width="148.50" height="51.60" fill="none" stroke="#000" stroke-width="1.25"/>
<text x="153.70" y="408.90" font-size="9.4" text-anchor="middle" textLength="70.50" lengthAdjust="spacingAndGlyphs" fill="#000" stroke="#000" stroke-width="0.2">CMML-2 (Mayo 4)</text>
<text x="75.70" y="427.80" font-size="6.8" text-anchor="end" textLength="60.00" lengthAdjust="spacingAndGlyphs" fill="#1a1a1a" stroke="#1a1a1a" stroke-width="0.2">TET2 p.E1555Vfs*22</text>
<text x="75.70" y="444.80" font-size="6.8" text-anchor="end" textLength="57.05" lengthAdjust="spacingAndGlyphs" fill="#cd2f41" stroke="#cd2f41" stroke-width="0.16">ZRSR2 p.R105Efs*3</text>
<text x="75.70" y="462.90" font-size="6.8" text-anchor="end" textLength="47.90" lengthAdjust="spacingAndGlyphs" fill="#cd2f41" stroke="#cd2f41" stroke-width="0.16">U2AF1 p.Q157P</text>
<text x="75.70" y="475.40" font-size="6.8" text-anchor="end" textLength="20.20" lengthAdjust="spacingAndGlyphs" fill="#1a1a1a" stroke="#1a1a1a" stroke-width="0.2">Clones</text>
<rect x="79.00" y="469.70" width="96.30" height="7.30" fill="#5e5a20"/>
<rect x="175.00" y="469.70" width="29.55" height="7.30" fill="#7f7a35"/>
<rect x="204.25" y="469.70" width="18.55" height="7.30" fill="#a8a010"/>
<rect x="222.50" y="469.70" width="6.00" height="7.30" fill="#c0b800"/>
<rect x="79.00" y="469.70" width="149.50" height="7.30" fill="url(#cv)"/>
<line x1="72.30" y1="478.10" x2="234.50" y2="478.10" stroke="#000" stroke-width="1.1"/>
<line x1="79.00" y1="478.10" x2="79.00" y2="480.50" stroke="#000" stroke-width="0.9"/>
<text x="79.00" y="489.80" font-size="6.6" text-anchor="middle" fill="#1a1a1a" stroke="#1a1a1a" stroke-width="0.08">0</text>
<line x1="115.40" y1="478.10" x2="115.40" y2="480.50" stroke="#000" stroke-width="0.9"/>
<text x="115.40" y="489.80" font-size="6.6" text-anchor="middle" fill="#1a1a1a" stroke="#1a1a1a" stroke-width="0.08">0.25</text>
<line x1="151.80" y1="478.10" x2="151.80" y2="480.50" stroke="#000" stroke-width="0.9"/>
<text x="151.80" y="489.80" font-size="6.6" text-anchor="middle" fill="#1a1a1a" stroke="#1a1a1a" stroke-width="0.08">0.5</text>
<line x1="188.20" y1="478.10" x2="188.20" y2="480.50" stroke="#000" stroke-width="0.9"/>
<text x="188.20" y="489.80" font-size="6.6" text-anchor="middle" fill="#1a1a1a" stroke="#1a1a1a" stroke-width="0.08">0.75</text>
<line x1="224.60" y1="478.10" x2="224.60" y2="480.50" stroke="#000" stroke-width="0.9"/>
<text x="224.60" y="489.80" font-size="6.6" text-anchor="middle" fill="#1a1a1a" stroke="#1a1a1a" stroke-width="0.08">1.0</text>
<text x="152.50" y="501.60" font-size="8.8" text-anchor="middle" textLength="47.00" lengthAdjust="spacingAndGlyphs" fill="#1a1a1a" stroke="#1a1a1a" stroke-width="0.2">Fraction of cells</text>
<rect x="315.00" y="413.75" width="148.75" height="52.00" fill="#fff"/>
<rect x="315.00" y="413.75" width="144.50" height="18.00" fill="#5f6bb1"/>
<rect x="459.50" y="413.75" width="4.25" height="17.00" fill="#fff"/>
<rect x="431.75" y="430.75" width="18.75" height="18.50" fill="#5f6bb1"/>
<rect x="460.00" y="430.75" width="2.00" height="18.50" fill="#5f6bb1"/>
<rect x="315.00" y="430.75" width="116.75" height="17.50" fill="#fff"/>
<rect x="450.50" y="430.75" width="9.50" height="17.50" fill="#fff"/>
<rect x="462.00" y="430.75" width="1.75" height="17.50" fill="#fff"/>
<rect x="450.50" y="448.25" width="9.00" height="17.50" fill="#5f6bb1"/>
<rect x="461.60" y="448.25" width="0.80" height="17.50" fill="#5f6bb1"/>
<rect x="315.00" y="448.25" width="135.50" height="17.50" fill="#fff"/>
<rect x="459.50" y="448.25" width="2.10" height="17.50" fill="#fff"/>
<rect x="462.40" y="448.25" width="1.35" height="17.50" fill="#fff"/>
<rect x="459.10" y="413.75" width="1.00" height="52.00" fill="#cd2f41"/>
<rect x="315.00" y="413.75" width="148.75" height="52.00" fill="none" stroke="#000" stroke-width="1.25"/>
<text x="390.00" y="409.00" font-size="9.4" text-anchor="middle" textLength="79.00" lengthAdjust="spacingAndGlyphs" fill="#000" stroke="#000" stroke-width="0.2">MDS-MLD (MSK-04)</text>
<text x="312.00" y="425.70" font-size="6.8" text-anchor="end" textLength="43.80" lengthAdjust="spacingAndGlyphs" fill="#1a1a1a" stroke="#1a1a1a" stroke-width="0.2">TET2 p.R1516*</text>
<text x="312.00" y="443.70" font-size="6.8" text-anchor="end" textLength="61.50" lengthAdjust="spacingAndGlyphs" fill="#cd2f41" stroke="#cd2f41" stroke-width="0.16">ZRSR2 p.E118Dfs*28</text>
<text x="312.00" y="459.40" font-size="6.8" text-anchor="end" textLength="44.70" lengthAdjust="spacingAndGlyphs" fill="#cd2f41" stroke="#cd2f41" stroke-width="0.16">ZRSR2 p.R290*</text>
<text x="312.00" y="474.20" font-size="6.8" text-anchor="end" textLength="20.20" lengthAdjust="spacingAndGlyphs" fill="#1a1a1a" stroke="#1a1a1a" stroke-width="0.2">Clones</text>
<rect x="315.00" y="468.30" width="117.05" height="7.50" fill="#625b00"/>
<rect x="431.75" y="468.30" width="19.05" height="7.50" fill="#7f7600"/>
<rect x="450.50" y="468.30" width="8.80" height="7.50" fill="#a09600"/>
<rect x="459.00" y="468.30" width="5.05" height="7.50" fill="#beb400"/>
<rect x="315.00" y="468.30" width="149.05" height="7.50" fill="url(#cv)"/>
<line x1="309.00" y1="476.50" x2="471.00" y2="476.50" stroke="#000" stroke-width="1.1"/>
<line x1="315.00" y1="476.50" x2="315.00" y2="478.90" stroke="#000" stroke-width="0.9"/>
<text x="315.00" y="488.20" font-size="6.6" text-anchor="middle" fill="#1a1a1a" stroke="#1a1a1a" stroke-width="0.08">0</text>
<line x1="352.20" y1="476.50" x2="352.20" y2="478.90" stroke="#000" stroke-width="0.9"/>
<text x="352.20" y="488.20" font-size="6.6" text-anchor="middle" fill="#1a1a1a" stroke="#1a1a1a" stroke-width="0.08">0.25</text>
<line x1="389.40" y1="476.50" x2="389.40" y2="478.90" stroke="#000" stroke-width="0.9"/>
<text x="389.40" y="488.20" font-size="6.6" text-anchor="middle" fill="#1a1a1a" stroke="#1a1a1a" stroke-width="0.08">0.5</text>
<line x1="426.60" y1="476.50" x2="426.60" y2="478.90" stroke="#000" stroke-width="0.9"/>
<text x="426.60" y="488.20" font-size="6.6" text-anchor="middle" fill="#1a1a1a" stroke="#1a1a1a" stroke-width="0.08">0.75</text>
<line x1="463.80" y1="476.50" x2="463.80" y2="478.90" stroke="#000" stroke-width="0.9"/>
<text x="463.80" y="488.20" font-size="6.6" text-anchor="middle" fill="#1a1a1a" stroke="#1a1a1a" stroke-width="0.08">1.0</text>
<text x="389.40" y="499.60" font-size="8.8" text-anchor="middle" textLength="47.90" lengthAdjust="spacingAndGlyphs" fill="#1a1a1a" stroke="#1a1a1a" stroke-width="0.2">Fraction of cells</text>
<rect x="475.00" y="433.80" width="5.80" height="5.80" fill="#fff" stroke="#000" stroke-width="1"/>
<rect x="475.00" y="443.60" width="5.80" height="5.80" fill="#5f6bb1" stroke="#000" stroke-width="1"/>
<text x="483.60" y="438.90" font-size="6.9" textLength="29.50" lengthAdjust="spacingAndGlyphs" fill="#1a1a1a" stroke="#1a1a1a" stroke-width="0.2">Wild-type</text>
<text x="483.60" y="448.90" font-size="6.9" textLength="21.00" lengthAdjust="spacingAndGlyphs" fill="#1a1a1a" stroke="#1a1a1a" stroke-width="0.2">Mutant</text>
<rect x="141.25" y="571.80" width="21.55" height="21.80" fill="#d6503a" stroke="#000" stroke-width="0.8"/>
<text x="152.03" y="585.50" font-size="6.1" text-anchor="middle" fill="#200808" stroke="#200808" stroke-width="0.1">***</text>
<rect x="119.70" y="593.60" width="21.55" height="21.50" fill="#ea9f86" stroke="#000" stroke-width="0.8"/>
<text x="130.47" y="607.15" font-size="6.1" text-anchor="middle" fill="#200808" stroke="#200808" stroke-width="0.1">***</text>
<rect x="120.15" y="572.25" width="20.65" height="20.90" fill="#c9161d" stroke="#000" stroke-width="1.7"/>
<text x="130.47" y="585.50" font-size="6.1" text-anchor="middle" fill="#200808" stroke="#200808" stroke-width="0.1">***</text>
<line x1="130.47" y1="568.60" x2="130.47" y2="571.80" stroke="#000" stroke-width="1.0"/>
<text x="130.28" y="566.80" font-size="6.8" textLength="47.70" lengthAdjust="spacingAndGlyphs" fill="#1a1a1a" stroke="#1a1a1a" stroke-width="0.2" transform="rotate(-45 130.28 566.80)">U2AF1 p.Q157P</text>
<line x1="152.03" y1="568.60" x2="152.03" y2="571.80" stroke="#000" stroke-width="1.0"/>
<text x="151.83" y="566.80" font-size="6.8" textLength="60.10" lengthAdjust="spacingAndGlyphs" fill="#1a1a1a" stroke="#1a1a1a" stroke-width="0.2" transform="rotate(-45 151.83 566.80)">TET2 p.E1555Vfs*22</text>
<line x1="116.50" y1="582.70" x2="119.70" y2="582.70" stroke="#000" stroke-width="1.0"/>
<text x="113.75" y="585.10" font-size="6.8" text-anchor="end" textLength="57.20" lengthAdjust="spacingAndGlyphs" fill="#1a1a1a" stroke="#1a1a1a" stroke-width="0.2">ZRSR2 p.R105Efs*3</text>
<line x1="116.50" y1="604.35" x2="119.70" y2="604.35" stroke="#000" stroke-width="1.0"/>
<text x="113.75" y="606.75" font-size="6.8" text-anchor="end" textLength="60.00" lengthAdjust="spacingAndGlyphs" fill="#1a1a1a" stroke="#1a1a1a" stroke-width="0.2">TET2 p.E1555Vfs*22</text>
<text x="165.20" y="595.50" font-size="7.2" textLength="20.50" lengthAdjust="spacingAndGlyphs" fill="#1a1a1a" stroke="#1a1a1a" stroke-width="0.2">log OR</text>
<rect x="167.30" y="599.30" width="3.10" height="14.70" fill="url(#cb)"/>
<text x="173.60" y="603.26" font-size="6.0" fill="#1a1a1a" stroke="#1a1a1a" stroke-width="0.05">4</text>
<text x="173.60" y="608.16" font-size="6.0" fill="#1a1a1a" stroke="#1a1a1a" stroke-width="0.05">0</text>
<text x="173.20" y="613.26" font-size="6.0" fill="#1a1a1a" stroke="#1a1a1a" stroke-width="0.05">-4</text>
<rect x="352.60" y="571.40" width="19.80" height="20.00" fill="#cd3424" stroke="#000" stroke-width="0.8"/>
<text x="362.50" y="584.20" font-size="6.1" text-anchor="middle" fill="#200808" stroke="#200808" stroke-width="0.1">***</text>
<rect x="352.60" y="591.40" width="19.80" height="19.70" fill="#c81b1c" stroke="#000" stroke-width="0.8"/>
<text x="362.50" y="604.05" font-size="6.1" text-anchor="middle" fill="#200808" stroke="#200808" stroke-width="0.1">***</text>
<rect x="372.85" y="571.85" width="19.50" height="19.10" fill="#fff" stroke="#000" stroke-width="1.7"/>
<line x1="362.50" y1="568.20" x2="362.50" y2="571.40" stroke="#000" stroke-width="1.0"/>
<text x="362.30" y="566.40" font-size="6.8" textLength="43.70" lengthAdjust="spacingAndGlyphs" fill="#1a1a1a" stroke="#1a1a1a" stroke-width="0.2" transform="rotate(-45 362.30 566.40)">TET2 p.R1516*</text>
<line x1="382.60" y1="568.20" x2="382.60" y2="571.40" stroke="#000" stroke-width="1.0"/>
<text x="382.40" y="566.40" font-size="6.8" textLength="60.80" lengthAdjust="spacingAndGlyphs" fill="#1a1a1a" stroke="#1a1a1a" stroke-width="0.2" transform="rotate(-45 382.40 566.40)">ZRSR2 p.E118Dfs*28</text>
<line x1="349.40" y1="581.40" x2="352.60" y2="581.40" stroke="#000" stroke-width="1.0"/>
<text x="345.90" y="583.80" font-size="6.8" text-anchor="end" textLength="43.90" lengthAdjust="spacingAndGlyphs" fill="#1a1a1a" stroke="#1a1a1a" stroke-width="0.2">ZRSR2 p.R290*</text>
<line x1="349.40" y1="601.25" x2="352.60" y2="601.25" stroke="#000" stroke-width="1.0"/>
<text x="345.90" y="603.65" font-size="6.8" text-anchor="end" textLength="60.80" lengthAdjust="spacingAndGlyphs" fill="#1a1a1a" stroke="#1a1a1a" stroke-width="0.2">ZRSR2 p.E118Dfs*28</text>
<text x="411.00" y="587.00" font-size="7.2" textLength="20.50" lengthAdjust="spacingAndGlyphs" fill="#1a1a1a" stroke="#1a1a1a" stroke-width="0.2">log OR</text>
<rect x="413.10" y="590.00" width="4.70" height="21.10" fill="url(#cb)"/>
<text x="421.10" y="596.58" font-size="6.6" fill="#1a1a1a" stroke="#1a1a1a" stroke-width="0.05">2</text>
<text x="421.10" y="602.88" font-size="6.6" fill="#1a1a1a" stroke="#1a1a1a" stroke-width="0.05">0</text>
<text x="420.80" y="609.08" font-size="6.6" fill="#1a1a1a" stroke="#1a1a1a" stroke-width="0.05">-2</text>
</svg>
<div class="frame"></div>
</body></html>
